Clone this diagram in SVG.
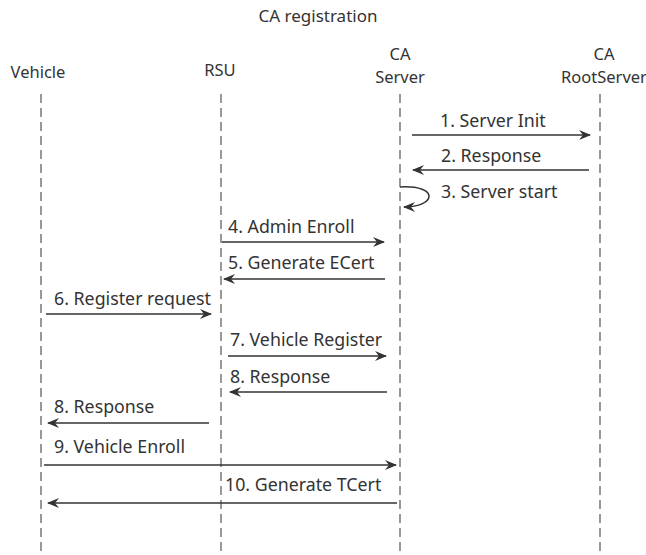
<svg xmlns="http://www.w3.org/2000/svg" width="646" height="555" viewBox="0 0 646 555">
  <style>
    text { font-family: "Noto Sans", "Liberation Sans", sans-serif; font-size: 17.8px; fill: #333; }
    .head { font-size: 16.5px; text-anchor: middle; }
    .title { font-size: 17px; text-anchor: middle; }
    .life { stroke: #555; stroke-width: 1.2; stroke-dasharray: 9 5; fill: none; }
    .msg { stroke: #333; stroke-width: 1.5; fill: none; marker-end: url(#arrow); }
  </style>
  <defs>
    <marker id="arrow" viewBox="0 0 12 10" refX="11" refY="5" markerWidth="12" markerHeight="10" markerUnits="userSpaceOnUse" orient="auto">
      <path d="M0,0 L12,5 L0,10 L4,5 Z" fill="#333"/>
    </marker>
  </defs>
  <rect width="646" height="555" fill="#fff"/>

  <text x="318" y="22" class="title">CA registration</text>

  <g id="vehicle">
    <text x="38" y="78" class="head">Vehicle</text>
    <line x1="41" y1="94" x2="41" y2="555" class="life"/>
  </g>
  <g id="rsu">
    <text x="220" y="76" class="head">RSU</text>
    <line x1="221" y1="94" x2="221" y2="555" class="life"/>
  </g>
  <g id="ca-server">
    <text x="400" y="60" class="head">CA</text>
    <text x="400" y="83" class="head">Server</text>
    <line x1="400" y1="94" x2="400" y2="555" class="life"/>
  </g>
  <g id="ca-rootserver">
    <text x="604" y="60" class="head">CA</text>
    <text x="604" y="83" class="head">RootServer</text>
    <line x1="600" y1="94" x2="600" y2="555" class="life"/>
  </g>

  <g id="connectors">
    <path d="M412,135 H590" class="msg"/>
    <path d="M589,170 H413" class="msg"/>
    <path d="M400,187 C440,185 436,207 404,207" class="msg"/>
    <path d="M222,242 H384" class="msg"/>
    <path d="M385,279 H224" class="msg"/>
    <path d="M46,314 H211" class="msg"/>
    <path d="M228,356 H386" class="msg"/>
    <path d="M387,392 H230" class="msg"/>
    <path d="M209,423 H48" class="msg"/>
    <path d="M44,465 H396" class="msg"/>
    <path d="M397,503 H48" class="msg"/>
  </g>

  <g id="labels">
    <text x="440" y="127">1. Server Init</text>
    <text x="441" y="162">2. Response</text>
    <text x="441" y="198">3. Server start</text>
    <text x="228" y="233">4. Admin Enroll</text>
    <text x="228" y="269">5. Generate ECert</text>
    <text x="54" y="305">6. Register request</text>
    <text x="230" y="346">7. Vehicle Register</text>
    <text x="230" y="383">8. Response</text>
    <text x="54" y="413">8. Response</text>
    <text x="54" y="453">9. Vehicle Enroll</text>
    <text x="225" y="491">10. Generate TCert</text>
  </g>
</svg>
